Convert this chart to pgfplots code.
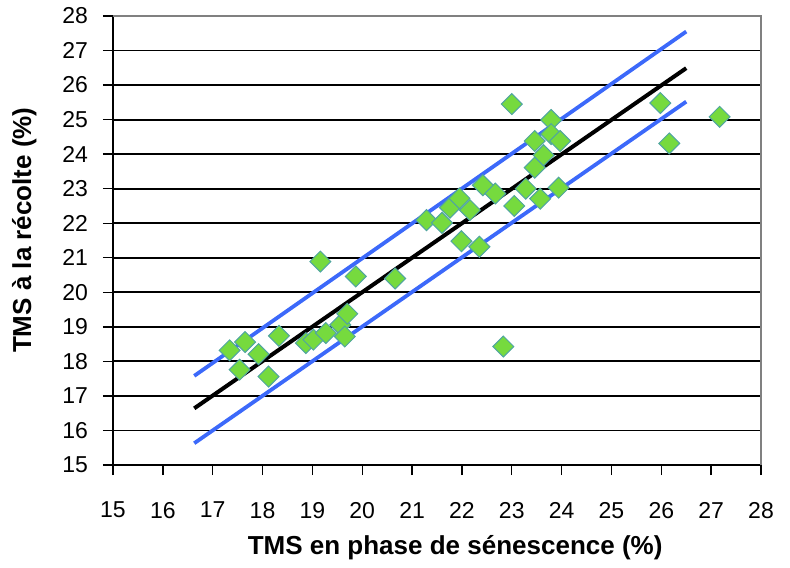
\documentclass[border=0pt]{standalone}
\usepackage{fontspec}
\setmainfont{Liberation Sans}
\usepackage{pgfplots}
\pgfplotsset{compat=1.18}

\definecolor{ptfill}{RGB}{118,218,62}
\definecolor{ptedge}{RGB}{80,165,160}
\definecolor{bandblue}{RGB}{60,105,250}
\definecolor{boxgray}{RGB}{128,128,128}

\begin{document}
\begin{tikzpicture}
\path[use as bounding box] (-56.5pt,-51pt) rectangle (338.5pt,232.5pt);
\begin{axis}[
    scale only axis,
    width=324pt, height=224.5pt,
    xmin=15, xmax=28, ymin=15, ymax=28,
    xtick={15,...,28}, ytick={15,...,28},
    axis x line*=bottom, axis y line*=left,
    axis line style={black, line width=0.8pt, -},
    tick align=outside,
    major tick length=5pt,
    tick style={black, line width=0.7pt},
    ymajorgrids,
    grid style={black, line width=0.9pt},
    /pgf/number format/assume math mode=true,
    tick label style={font=\fontsize{11.5}{13}\selectfont},
    xticklabel style={yshift=-10pt},
    yticklabel style={xshift=-4pt},
    label style={font=\bfseries\fontsize{13}{15}\selectfont},
    xlabel={TMS en phase de sénescence (\%)},
    ylabel={TMS à la récolte (\%)},
    xlabel style={at={(axis description cs:0.528,-0.185)}, anchor=center},
    ylabel style={at={(axis description cs:-0.137,0.523)}, anchor=center, rotate=0},
    clip=false,
    after end axis/.code={
        \draw[boxgray, line width=1pt] (rel axis cs:0,1) -- (rel axis cs:1,1) -- (rel axis cs:1,0);
    },
]
% regression line and band
\addplot[black, line width=2pt] coordinates {(16.63,16.64) (26.5,26.49)};
\addplot[bandblue, line width=1.9pt] coordinates {(16.63,17.58) (26.5,27.55)};
\addplot[bandblue, line width=1.9pt] coordinates {(16.63,15.63) (26.5,25.52)};
% observations
\addplot[only marks, mark=square*, mark size=3.7pt,
    mark options={rotate=45, fill=ptfill, draw=ptedge, line width=0.5pt}]
coordinates {
(17.34,18.32) (17.65,18.56) (17.92,18.21) (17.54,17.76) (18.12,17.56)
(18.33,18.74) (18.87,18.53) (19.02,18.63) (19.27,18.82) (19.56,19.06)
(19.70,19.38) (19.65,18.72) (19.16,20.89) (19.87,20.46) (20.66,20.40)
(21.29,22.09) (21.60,22.01) (21.76,22.45) (21.95,22.72) (22.16,22.38)
(21.99,21.48) (22.35,21.32) (22.42,23.10) (22.67,22.86) (22.83,18.43)
(23.00,25.45) (23.05,22.50) (23.28,23.00) (23.46,24.38) (23.46,23.61)
(23.64,23.97) (23.57,22.71) (23.79,24.99) (23.79,24.58) (23.97,24.38)
(23.94,23.03) (25.98,25.48) (26.16,24.31) (27.17,25.08)
};
\end{axis}
\end{tikzpicture}
\end{document}
